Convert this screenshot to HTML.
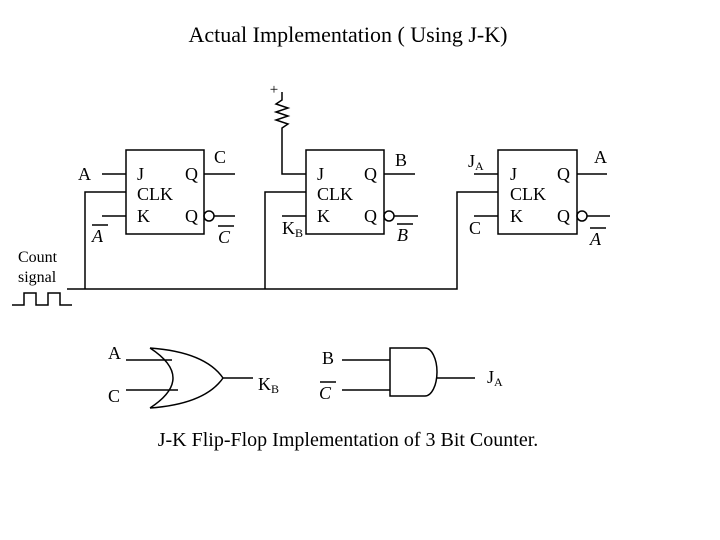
<!DOCTYPE html><html><head><style>body{margin:0;background:#fff}svg{display:block}text{font-family:"Liberation Serif",serif;fill:#000}</style></head><body>
<svg width="720" height="540" viewBox="0 0 720 540" xmlns="http://www.w3.org/2000/svg">
<g stroke="#000" stroke-width="1.5" fill="none">
<rect x="126" y="150" width="78" height="84"/>
<rect x="306" y="150" width="78" height="84"/>
<rect x="498" y="150" width="79" height="84"/>
<path d="M102 174H126M102 216H126M204 174H235M214 216H235"/>
<circle cx="209" cy="216" r="5"/>
<path d="M85 289V192H126M67 289H457V192H498M265 289V192H306M282 216H306"/>
<path d="M282 92V100L276 104L288 108L276 112L288 116L276 120L288 124L282 128V174H306"/>
<path d="M384 174H415M394 216H418M474 174H498M474 216H498M577 174H607M587 216H610"/>
<circle cx="389" cy="216" r="5"/><circle cx="582" cy="216" r="5"/>
<path d="M12 305H24V293H36V305H48V293H60V305H72"/>
<path d="M150 348Q196 378 150 408M150 348Q205 352 223 378Q205 404 150 408M126 360H172M126 390H178M223 378H253"/>
<path d="M390 348H425A12 24 0 0 1 425 396H390ZM342 360H390M342 390H390M437 378H475"/>
<path d="M92 225H108M218 226H234M397 224H413M590 228H606M320 382H336"/>
</g>
<text x="348" y="42" font-size="22" text-anchor="middle">Actual Implementation ( Using J-K)</text>
<text x="274" y="94" font-size="15" text-anchor="middle">+</text>
<g font-size="18">
<text x="78" y="180">A</text><text x="92" y="242" font-style="italic">A</text>
<text x="137" y="180">J</text><text x="137" y="200">CLK</text><text x="137" y="222">K</text>
<text x="185" y="180">Q</text><text x="185" y="222">Q</text>
<text x="214" y="163">C</text><text x="218" y="243" font-style="italic">C</text>
<text x="317" y="180">J</text><text x="317" y="200">CLK</text><text x="317" y="222">K</text>
<text x="364" y="180">Q</text><text x="364" y="222">Q</text>
<text x="282" y="234">K<tspan font-size="12" dy="3">B</tspan></text>
<text x="395" y="166">B</text><text x="397" y="241" font-style="italic">B</text>
<text x="468" y="167">J<tspan font-size="12" dy="3">A</tspan></text>
<text x="469" y="234">C</text>
<text x="510" y="180">J</text><text x="510" y="200">CLK</text><text x="510" y="222">K</text>
<text x="557" y="180">Q</text><text x="557" y="222">Q</text>
<text x="594" y="163">A</text><text x="590" y="245" font-style="italic">A</text>
<text x="108" y="359">A</text><text x="108" y="402">C</text>
<text x="258" y="390">K<tspan font-size="12" dy="3">B</tspan></text>
<text x="322" y="364">B</text><text x="319" y="399" font-style="italic">C</text>
<text x="487" y="383">J<tspan font-size="12" dy="3">A</tspan></text>
</g>
<text x="18" y="262" font-size="16">Count</text><text x="18" y="282" font-size="16">signal</text>
<text x="348" y="446" font-size="20" text-anchor="middle">J-K Flip-Flop Implementation of 3 Bit Counter.</text>
</svg></body></html>
